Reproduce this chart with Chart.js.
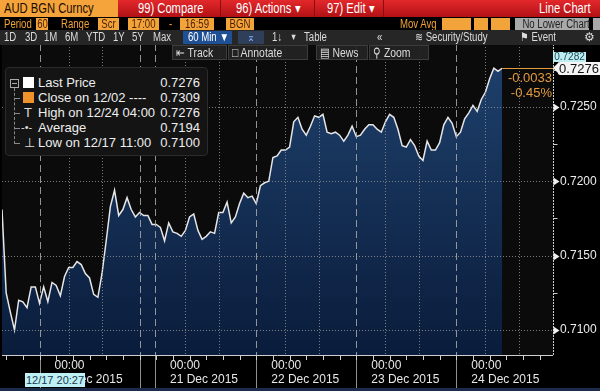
<!DOCTYPE html>
<html>
<head>
<meta charset="utf-8">
<script src="https://cdn.jsdelivr.net/npm/chart.js@4.4.1/dist/chart.umd.min.js"></script>
<style>
  html, body { margin: 0; padding: 0; background: #000; }
  #page { position: relative; width: 600px; height: 391px; overflow: hidden; background: #000;
          font-family: 'Liberation Sans', Arial, sans-serif; }
  #page div { position: absolute; white-space: nowrap; }
  #c { position: absolute; left: 0; top: 0; }
  /* police étroite simulée */
  .n  { transform: scaleX(0.8); transform-origin: 0 50%; }
  .nc { transform: scaleX(0.8); transform-origin: 50% 50%; text-align: center; }
  .t1 { top: 0; height: 17px; line-height: 17px; font-size: 14px; color: #fff; }
  .t2 { top: 18px; height: 12px; line-height: 12px; font-size: 12px; color: #f2a33a; }
  .ob { top: 18px; height: 12px; background: #f2a33a; }
  .dk { color: #4a1d00; }
  .t3 { top: 31px; height: 13px; line-height: 13px; font-size: 12px; color: #dcdcdc; }
  .b4 { top: 45px; height: 15px; background: rgba(36,36,36,0.92); border: 1px solid #3c3c3c; box-sizing: border-box; }
  .t4 { top: 45px; height: 15px; line-height: 15px; font-size: 13px; color: #dcdcdc; }
  .lg { left: 38px; font-size: 13px; color: #eee; line-height: 15px; height: 15px; }
  .lv { left: 150px; width: 50px; text-align: right; font-size: 13px; color: #eee; line-height: 15px; height: 15px; }
</style>
</head>
<body>
<div id="page">
  <canvas id="c" width="600" height="391"></canvas>

  <!-- ligne 1 : titre -->
  <div style="left:118px;top:0;width:482px;height:17px;background:linear-gradient(#e3282b,#b11115);"></div>
  <div style="left:0;top:0;width:118px;height:17px;background:#f4a43a;"></div>
  <div style="left:220px;top:0;width:1px;height:17px;background:#8c0d10;"></div>
  <div style="left:314px;top:0;width:1px;height:17px;background:#8c0d10;"></div>
  <div style="left:383px;top:0;width:1px;height:17px;background:#8c0d10;"></div>
  <div class="t1 n" style="left:4px;color:#1a0a00;">AUD BGN Curncy</div>
  <div class="t1 n" style="left:138px;">99) Compare</div>
  <div class="t1 n" style="left:236px;">96) Actions &#9662;</div>
  <div class="t1 n" style="left:327px;">97) Edit &#9662;</div>
  <div class="t1 n" style="left:539px;">Line Chart</div>

  <!-- ligne 2 : période -->
  <div class="ob" style="left:36px;width:12px;"></div>
  <div class="ob" style="left:98px;width:21px;"></div>
  <div class="ob" style="left:128px;width:31px;"></div>
  <div class="ob" style="left:180px;width:34px;"></div>
  <div class="ob" style="left:226px;width:28px;"></div>
  <div class="ob" style="left:442px;width:29px;"></div>
  <div class="ob" style="left:474px;width:14px;"></div>
  <div class="ob" style="left:491px;width:19px;"></div>
  <div class="ob" style="left:515px;width:74px;background:#a9a9a9;"></div>
  <div class="ob" style="left:593px;width:7px;background:#a9a9a9;"></div>
  <div class="t2 n" style="left:4px;">Period</div>
  <div class="t2 nc dk" style="left:36px;width:12px;">60</div>
  <div class="t2 n" style="left:61px;">Range</div>
  <div class="t2 nc dk" style="left:98px;width:21px;">Scr</div>
  <div class="t2 nc dk" style="left:128px;width:31px;">17:00</div>
  <div class="t2 n" style="left:169px;">-</div>
  <div class="t2 nc dk" style="left:180px;width:34px;">16:59</div>
  <div class="t2 nc dk" style="left:226px;width:28px;">BGN</div>
  <div class="t2 n" style="left:400px;">Mov Avg</div>
  <div class="t2 nc" style="left:515px;width:74px;color:#222;">No Lower Chart</div>

  <!-- ligne 3 : boutons -->
  <div style="left:0;top:30px;width:600px;height:15px;background:#262626;"></div>
  <div style="left:183px;top:31px;width:49px;height:13px;background:#1f4f94;"></div>
  <div style="left:238px;top:31px;width:26px;height:13px;background:#2f3f5a;"></div>
  <div class="t3 n" style="left:4px;">1D</div>
  <div class="t3 n" style="left:25px;">3D</div>
  <div class="t3 n" style="left:44px;">1M</div>
  <div class="t3 n" style="left:65px;">6M</div>
  <div class="t3 n" style="left:86px;">YTD</div>
  <div class="t3 n" style="left:113px;">1Y</div>
  <div class="t3 n" style="left:132px;">5Y</div>
  <div class="t3 n" style="left:153px;">Max</div>
  <div class="t3 nc" style="left:183px;width:49px;color:#fff;">60 Min &#9660;</div>
  <div class="t3 nc" style="left:238px;width:26px;color:#7fb2ff;">&#8965;</div>
  <div class="t3 n" style="left:272px;">1&#8595;</div>
  <div class="t3 n" style="left:290px;font-size:9px;">&#9660;</div>
  <div class="t3 n" style="left:304px;">Table</div>
  <div class="t3 n" style="left:377px;">&laquo;</div>
  <div class="t3 n" style="left:415px;">&#8779; Security/Study</div>
  <div class="t3 n" style="left:520px;">&#9873; Event</div>
  <div class="t3" style="left:584px;">&#9881;</div>

  <!-- ligne 4 : outils du graphique -->
  <div class="b4" style="left:172px;width:55px;"></div>
  <div class="b4" style="left:228px;width:80px;"></div>
  <div class="b4" style="left:316px;width:52px;"></div>
  <div class="b4" style="left:369px;width:60px;"></div>
  <div class="t4 n" style="left:176px;">&#8676; Track</div>
  <div class="t4 n" style="left:232px;">&#9633; Annotate</div>
  <div class="t4 n" style="left:320px;">&#9636; News</div>
  <div class="t4 n" style="left:373px;">&#9906; Zoom</div>

  <!-- légende -->
  <div style="left:5px;top:67px;width:203px;height:89px;background:#141414;border:1px solid #2b2b2b;border-radius:4px;box-sizing:border-box;"></div>
  <div style="left:10px;top:79px;width:7px;height:7px;border:1px solid #aaa;"></div>
  <div style="left:12px;top:83px;width:5px;height:1px;background:#aaa;"></div>
  <div style="left:14px;top:88px;width:0;height:56px;border-left:1px dashed #888;"></div>
  <div style="left:14px;top:98px;width:6px;height:1px;background:#888;"></div>
  <div style="left:14px;top:113px;width:6px;height:1px;background:#888;"></div>
  <div style="left:14px;top:128px;width:6px;height:1px;background:#888;"></div>
  <div style="left:14px;top:143px;width:6px;height:1px;background:#888;"></div>
  <div style="left:23px;top:77px;width:11px;height:11px;background:#fff;"></div>
  <div style="left:23px;top:92px;width:11px;height:11px;background:#f0922b;"></div>
  <div style="left:24px;top:105px;font-size:13px;color:#ddd;line-height:15px;">T</div>
  <div style="left:21px;top:120px;font-size:11px;color:#ddd;line-height:15px;">-&#8226;-</div>
  <div style="left:24px;top:135px;font-size:13px;color:#ddd;line-height:15px;">&#8869;</div>
  <div class="lg" style="top:75px;">Last Price</div>
  <div class="lg" style="top:90px;">Close on 12/02 ----</div>
  <div class="lg" style="top:105px;">High on 12/24 04:00</div>
  <div class="lg" style="top:120px;">Average</div>
  <div class="lg" style="top:135px;">Low on 12/17 11:00</div>
  <div class="lv" style="top:75px;">0.7276</div>
  <div class="lv" style="top:90px;">0.7309</div>
  <div class="lv" style="top:105px;">0.7276</div>
  <div class="lv" style="top:120px;">0.7194</div>
  <div class="lv" style="top:135px;">0.7100</div>

  <!-- étiquettes du dernier prix (placées par le script) -->
  <div id="hiTag" style="left:553px;width:33px;height:10px;line-height:10px;font-size:10px;background:#bfeef2;color:#1b4a5a;text-align:center;">0.7282</div>
  <div id="lastTag" style="left:558px;width:42px;height:13px;line-height:13px;font-size:13px;background:#f4f4f4;color:#111;text-align:center;border-radius:2px 0 0 2px;">0.7276</div>
  <div id="lastArrow" style="left:553px;width:0;height:0;border-top:6px solid transparent;border-bottom:6px solid transparent;border-right:6px solid #f4f4f4;"></div>
  <div id="chgTag" style="left:505px;width:47px;text-align:right;font-size:13px;line-height:15px;color:#e49a3e;">-0.0033</div>
  <div id="pctTag" style="left:505px;width:47px;text-align:right;font-size:13px;line-height:15px;color:#e49a3e;">-0.45%</div>

  <!-- curseur et barre du bas -->
  <div style="left:25px;top:373px;width:60px;height:14px;line-height:14px;font-size:11px;background:#bff0f4;color:#17374f;text-align:center;">12/17 20:27</div>
  <div style="left:0;top:388px;width:600px;height:3px;background:#1c2b4a;"></div>
</div>

<script>
// AUD BGN Curncy - barres 60 min, du 17 au 24 déc. 2015
const lastPrice = 0.7276;
const sessionHigh = 0.7282;

// clôtures horaires
const closeValues = [
  0.7181, 0.7125, 0.7112, 0.7100, 0.7120, 0.7119, 0.7115, 0.7129, 0.7129, 0.7118,
  0.7129, 0.7119, 0.7132, 0.7130, 0.7123, 0.7136, 0.7142, 0.7142, 0.7146, 0.7144,
  0.7138, 0.7135, 0.7124, 0.7122, 0.7138, 0.7160, 0.7183, 0.7194, 0.7177, 0.7181,
  0.7189, 0.7181, 0.7176, 0.7179, 0.7177, 0.7177, 0.7171, 0.7171, 0.7169, 0.7160,
  0.7172, 0.7166, 0.7165, 0.7163, 0.7167, 0.7176, 0.7178, 0.7167, 0.7161, 0.7163,
  0.7166, 0.7165, 0.7179, 0.7179, 0.7186, 0.7172, 0.7176, 0.7185, 0.7192, 0.7189,
  0.7190, 0.7185, 0.7197, 0.7199, 0.7200, 0.7216, 0.7217, 0.7221, 0.7221, 0.7223,
  0.7240, 0.7243, 0.7235, 0.7231, 0.7237, 0.7244, 0.7243, 0.7245, 0.7233, 0.7232,
  0.7233, 0.7231, 0.7227, 0.7231, 0.7237, 0.7230, 0.7231, 0.7235, 0.7238, 0.7238,
  0.7235, 0.7233, 0.7240, 0.7245, 0.7243, 0.7235, 0.7224, 0.7223, 0.7228, 0.7224,
  0.7217, 0.7214, 0.7227, 0.7221, 0.7221, 0.7226, 0.7238, 0.7243, 0.7239, 0.7230,
  0.7233, 0.7242, 0.7246, 0.7251, 0.7247, 0.7255, 0.7260, 0.7269, 0.7276, 0.7274,
  0.7276
];
// n° de la barre horaire (axe linéaire)
const barIndex = closeValues.map((v, i) => i);

// séparateurs de jours (00:00) et leurs libellés
const dayTicks = [9, 33, 36.7, 61, 85, 109];
const dayLabels = [
  ['00:00', '18 Dec 2015'], null, ['00:00', '21 Dec 2015'],
  ['00:00', '22 Dec 2015'], ['00:00', '23 Dec 2015'], ['00:00', '24 Dec 2015']
];
// lignes pointillées intermédiaires
const hourTicks = [16, 24, 44, 52, 68, 76, 92, 100, 116, 124];

const priceTicks = [0.7100, 0.7125, 0.7150, 0.7175, 0.7200, 0.7225, 0.7250, 0.7275];
const priceLabels = ['0.7100', '', '0.7150', '', '0.7200', '', '0.7250', ''];

const xMin = 0, xMax = 132.2;
const yMin = 0.70832, yMax = 0.72923;

const isMajor = v => priceLabels[priceTicks.indexOf(v)] !== '';

// fonds, quadrillage, séparateurs de jours, axes et petits repères
const bbgDecor = {
  id: 'bbgDecor',
  beforeDraw(chart) {
    const { ctx, chartArea: a } = chart;
    ctx.save();
    ctx.fillStyle = '#0b0b0b';
    ctx.fillRect(a.left, a.top, a.right - a.left, a.bottom - a.top);
    ctx.restore();
  },
  afterDatasetsDraw(chart) {
    const { ctx, chartArea: a, scales: { x, y } } = chart;
    ctx.save();
    ctx.lineWidth = 1;

    // quadrillage pointillé
    ctx.strokeStyle = 'rgba(150,150,150,0.8)';
    ctx.setLineDash([1, 2]);
    hourTicks.forEach(v => {
      const px = Math.round(x.getPixelForValue(v)) + 0.5;
      ctx.beginPath(); ctx.moveTo(px, a.top); ctx.lineTo(px, a.bottom); ctx.stroke();
    });
    priceTicks.filter(isMajor).forEach(v => {
      const py = Math.round(y.getPixelForValue(v)) + 0.5;
      ctx.beginPath(); ctx.moveTo(a.left, py); ctx.lineTo(a.right, py); ctx.stroke();
    });

    // dernier prix : trait orange jusqu'à l'axe
    ctx.setLineDash([]);
    const lastX = x.getPixelForValue(barIndex[barIndex.length - 1]);
    const lastY = Math.round(y.getPixelForValue(lastPrice)) + 0.5;
    ctx.strokeStyle = '#e49a3e';
    ctx.beginPath(); ctx.moveTo(lastX, lastY); ctx.lineTo(a.right, lastY); ctx.stroke();

    // séparateurs de jours
    ctx.strokeStyle = 'rgba(170,170,170,0.85)';
    dayTicks.forEach(v => {
      const px = Math.round(x.getPixelForValue(v)) + 0.5;
      ctx.setLineDash([7, 4]);
      ctx.beginPath(); ctx.moveTo(px, a.top); ctx.lineTo(px, a.bottom); ctx.stroke();
      ctx.setLineDash([]);
      ctx.beginPath(); ctx.moveTo(px, a.bottom); ctx.lineTo(px, chart.height); ctx.stroke();
    });

    // axe du bas + graduations toutes les 4 h
    ctx.strokeStyle = '#cfcfcf';
    ctx.beginPath(); ctx.moveTo(a.left, a.bottom + 0.5); ctx.lineTo(a.right, a.bottom + 0.5); ctx.stroke();
    for (let h = 1; h < xMax; h += 4) {
      const px = Math.round(x.getPixelForValue(h)) + 0.5;
      ctx.beginPath(); ctx.moveTo(px, a.bottom); ctx.lineTo(px, a.bottom + 5); ctx.stroke();
    }

    // axe de droite
    const rx = Math.round(a.right) + 0.5;
    ctx.setLineDash([2, 1]);
    ctx.beginPath(); ctx.moveTo(rx, a.top); ctx.lineTo(rx, a.bottom); ctx.stroke();
    ctx.setLineDash([]);
    priceTicks.forEach(v => {
      const py = Math.round(y.getPixelForValue(v));
      if (isMajor(v)) {
        ctx.fillStyle = '#f0f0f0';
        ctx.beginPath();
        ctx.moveTo(rx, py - 3.5); ctx.lineTo(rx + 6, py + 0.5); ctx.lineTo(rx, py + 4.5);
        ctx.closePath(); ctx.fill();
      } else {
        ctx.beginPath(); ctx.moveTo(rx, py + 0.5); ctx.lineTo(rx + 4, py + 0.5); ctx.stroke();
      }
    });
    ctx.restore();
  },
  afterRender(chart) {
    const y = chart.scales.y;
    const lastY = y.getPixelForValue(lastPrice);
    const hiY = y.getPixelForValue(sessionHigh);
    document.getElementById('lastTag').style.top = (lastY - 6) + 'px';
    document.getElementById('lastArrow').style.top = (lastY - 6) + 'px';
    document.getElementById('hiTag').style.top = (hiY - 7) + 'px';
    document.getElementById('chgTag').style.top = (lastY + 2) + 'px';
    document.getElementById('pctTag').style.top = (lastY + 17) + 'px';
  }
};

new Chart(document.getElementById('c'), {
  type: 'line',
  data: {
    labels: barIndex,
    datasets: [{
      label: 'Last Price',
      data: closeValues,
      borderColor: '#e6e6e6',
      borderWidth: 1.5,
      pointRadius: 0,
      tension: 0,
      fill: 'start',
      backgroundColor: (c) => {
        const { ctx, chartArea } = c.chart;
        if (!chartArea) return '#15325a';
        const g = ctx.createLinearGradient(0, chartArea.top, 0, chartArea.bottom);
        g.addColorStop(0, '#1f426e');
        g.addColorStop(1, '#0a1c3b');
        return g;
      }
    }]
  },
  options: {
    responsive: false,
    animation: false,
    devicePixelRatio: 1,
    layout: { padding: { top: 44, left: 2, right: 0, bottom: 0 } },
    plugins: { legend: { display: false }, tooltip: { enabled: false } },
    scales: {
      x: {
        type: 'linear',
        min: xMin, max: xMax,
        afterBuildTicks: (s) => { s.ticks = dayTicks.map(v => ({ value: v })); },
        afterFit: (s) => { s.height = 36; },
        grid: { display: false, drawTicks: false },
        border: { display: false },
        ticks: {
          autoSkip: false,
          maxRotation: 0,
          align: 'start',
          labelOffset: 15,
          padding: 3,
          color: '#e8e8e8',
          font: { family: "'Liberation Sans', Arial, sans-serif", size: 12 },
          callback: (v) => {
            const k = dayTicks.indexOf(v);
            return (k >= 0 && dayLabels[k]) ? dayLabels[k] : '';
          }
        }
      },
      y: {
        position: 'right',
        min: yMin, max: yMax,
        afterBuildTicks: (s) => { s.ticks = priceTicks.map(v => ({ value: v })); },
        afterFit: (s) => { s.width = 47; },
        grid: { display: false, drawTicks: false },
        border: { display: false },
        ticks: {
          autoSkip: false,
          padding: 7,
          color: '#ececec',
          font: { family: "'Liberation Sans', Arial, sans-serif", size: 12 },
          callback: (v) => priceLabels[priceTicks.indexOf(v)] || ''
        }
      }
    }
  },
  plugins: [bbgDecor]
});
</script>
</body>
</html>
